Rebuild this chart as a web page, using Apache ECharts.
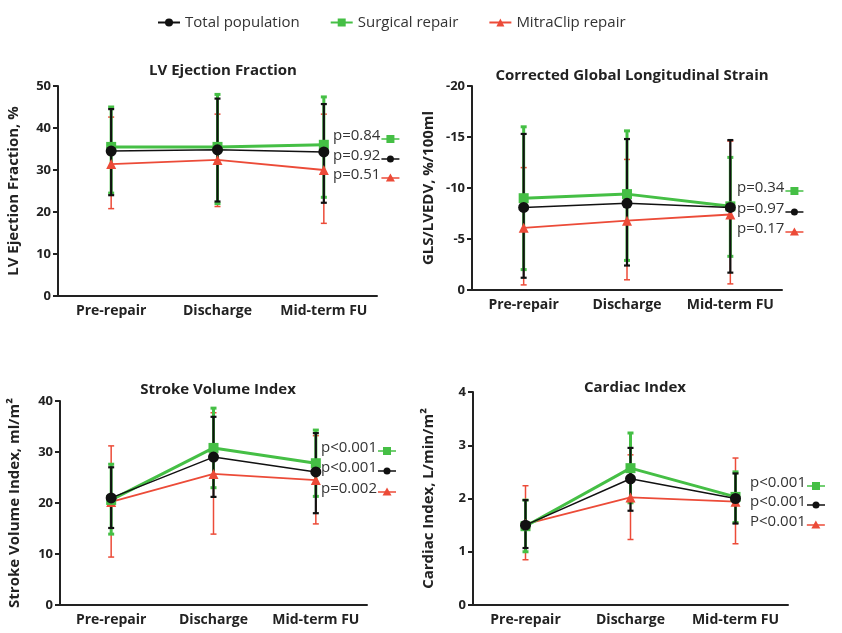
<!DOCTYPE html>
<html>
<head>
<meta charset="utf-8">
<script src="https://cdn.jsdelivr.net/npm/echarts@6/dist/echarts.min.js"></script>
<style>html,body{margin:0;padding:0;background:#fff;}#c{width:842px;height:633px;}</style>
</head>
<body>
<div id="c"></div>
<script>
const categories = ['Pre-repair', 'Discharge', 'Mid-term FU'];
const seriesNames = ['Total population', 'Surgical repair', 'MitraClip repair'];

// Panel 1: LV Ejection Fraction (%)
const efTotal = [34.5, 34.8, 34.3];
const efTotalLow = [24.0, 22.5, 22.2];
const efTotalHigh = [44.5, 47.0, 45.7];
const efSurgical = [35.5, 35.5, 36.0];
const efSurgicalLow = [24.5, 22.0, 23.5];
const efSurgicalHigh = [45.0, 48.0, 47.4];
const efMitra = [31.4, 32.4, 30.0];
const efMitraLow = [20.8, 21.3, 17.3];
const efMitraHigh = [42.6, 43.3, 43.3];
const efP = ['p=0.84', 'p=0.92', 'p=0.51'];

// Panel 2: Corrected GLS (GLS/LVEDV, %/100ml)
const glsTotal = [-8.1, -8.5, -8.1];
const glsTotalLow = [-1.2, -2.4, -1.7];
const glsTotalHigh = [-15.3, -14.8, -14.7];
const glsSurgical = [-9.0, -9.4, -8.2];
const glsSurgicalLow = [-2.0, -2.9, -3.3];
const glsSurgicalHigh = [-16.0, -15.6, -13.0];
const glsMitra = [-6.1, -6.8, -7.4];
const glsMitraLow = [-0.5, -1.0, -0.6];
const glsMitraHigh = [-12.0, -12.8, -14.6];
const glsP = ['p=0.34', 'p=0.97', 'p=0.17'];

// Panel 3: Stroke Volume Index (ml/m2)
const svTotal = [21.0, 29.0, 26.1];
const svTotalLow = [15.1, 21.2, 18.0];
const svTotalHigh = [27.0, 36.9, 33.7];
const svSurgical = [20.6, 30.8, 27.8];
const svSurgicalLow = [13.9, 23.0, 21.3];
const svSurgicalHigh = [27.6, 38.6, 34.3];
const svMitra = [20.2, 25.7, 24.5];
const svMitraLow = [9.4, 13.9, 15.9];
const svMitraHigh = [31.2, 37.7, 33.2];
const svP = ['p<0.001', 'p<0.001', 'p=0.002'];

// Panel 4: Cardiac Index (L/min/m2)
const ciTotal = [1.50, 2.37, 2.00];
const ciTotalLow = [1.07, 1.77, 1.53];
const ciTotalHigh = [1.97, 2.95, 2.47];
const ciSurgical = [1.48, 2.57, 2.03];
const ciSurgicalLow = [1.00, 1.92, 1.55];
const ciSurgicalHigh = [1.97, 3.23, 2.50];
const ciMitra = [1.52, 2.02, 1.94];
const ciMitraLow = [0.85, 1.23, 1.15];
const ciMitraHigh = [2.24, 2.82, 2.76];
const ciP = ['p<0.001', 'p<0.001', 'P<0.001'];

const BLACK = '#111111', GREEN = '#45bf45', RED = '#ec4b38';
const FONT = '"Open Sans", "Liberation Sans", sans-serif';

const panels = [
  { title: 'LV Ejection Fraction', yName: 'LV Ejection Fraction, %', min: 0, max: 50, interval: 10, inverse: false,
    grid: { left: 58, top: 86, width: 319, height: 210 }, titlePos: [218, 58], nameGap: 37,
    total: [efTotal, efTotalLow, efTotalHigh], surg: [efSurgical, efSurgicalLow, efSurgicalHigh], mitra: [efMitra, efMitraLow, efMitraHigh],
    p: efP, pPos: [333, [139, 159, 178]] },
  { title: 'Corrected Global Longitudinal Strain', yName: 'GLS/LVEDV, %/100ml', min: -20, max: 0, interval: 5, inverse: true,
    grid: { left: 472, top: 86, width: 310, height: 204 }, titlePos: [627, 63], nameGap: 36,
    total: [glsTotal, glsTotalLow, glsTotalHigh], surg: [glsSurgical, glsSurgicalLow, glsSurgicalHigh], mitra: [glsMitra, glsMitraLow, glsMitraHigh],
    p: glsP, pPos: [737, [191, 212, 232]] },
  { title: 'Stroke Volume Index', yName: 'Stroke Volume Index, ml/m²', min: 0, max: 40, interval: 10, inverse: false,
    grid: { left: 60, top: 401, width: 307, height: 204 }, titlePos: [213, 377], nameGap: 38,
    total: [svTotal, svTotalLow, svTotalHigh], surg: [svSurgical, svSurgicalLow, svSurgicalHigh], mitra: [svMitra, svMitraLow, svMitraHigh],
    p: svP, pPos: [321, [451, 471, 492]] },
  { title: 'Cardiac Index', yName: 'Cardiac Index, L/min/m²', min: 0, max: 4, interval: 1, inverse: false,
    grid: { left: 473, top: 392, width: 315, height: 213 }, titlePos: [630, 375], nameGap: 37,
    total: [ciTotal, ciTotalLow, ciTotalHigh], surg: [ciSurgical, ciSurgicalLow, ciSurgicalHigh], mitra: [ciMitra, ciMitraLow, ciMitraHigh],
    p: ciP, pPos: [750, [486, 505, 525]] }
];

function errRender(color, lw, cap) {
  return function (params, api) {
    const x = api.value(0);
    const a = api.coord([x, api.value(1)]);
    const b = api.coord([x, api.value(2)]);
    const st = { stroke: color, lineWidth: lw };
    return { type: 'group', children: [
      { type: 'line', shape: { x1: a[0], y1: a[1], x2: b[0], y2: b[1] }, style: st },
      { type: 'line', shape: { x1: a[0] - cap, y1: a[1], x2: a[0] + cap, y2: a[1] }, style: st },
      { type: 'line', shape: { x1: b[0] - cap, y1: b[1], x2: b[0] + cap, y2: b[1] }, style: st }
    ] };
  };
}

const grids = [], xAxes = [], yAxes = [], series = [], titles = [], graphics = [];
const measure = document.createElement('canvas').getContext('2d');
const PFONT = '15px ' + FONT;
measure.font = PFONT;

panels.forEach((p, i) => {
  grids.push(Object.assign({}, p.grid));
  titles.push({ text: p.title, left: p.titlePos[0], top: p.titlePos[1], textAlign: 'center',
    textStyle: { fontFamily: FONT, fontWeight: 'bold', fontSize: 15, color: '#222' } });
  xAxes.push({ type: 'category', gridIndex: i, data: categories, boundaryGap: true,
    axisLine: { onZero: false, lineStyle: { color: '#222', width: 2 } },
    axisTick: { alignWithLabel: true, length: 5, lineStyle: { color: '#222', width: 2 } },
    axisLabel: { fontFamily: FONT, fontWeight: 'bold', fontSize: 14, color: '#222', margin: 8, interval: 0 },
    splitLine: { show: false } });
  yAxes.push({ type: 'value', gridIndex: i, min: p.min, max: p.max, interval: p.interval, inverse: p.inverse,
    name: p.yName, nameLocation: 'middle', nameGap: p.nameGap,
    nameTextStyle: { fontFamily: FONT, fontWeight: 'bold', fontSize: 15, color: '#222' },
    axisLine: { show: true, lineStyle: { color: '#222', width: 2 } },
    axisTick: { show: true, length: 5, lineStyle: { color: '#222', width: 2 } },
    axisLabel: { fontFamily: FONT, fontWeight: 'bold', fontSize: 13, color: '#222', margin: 7 },
    splitLine: { show: false } });

  const groups = [
    { d: p.mitra, color: RED, lw: 1.8, elw: 1.5, sym: 'triangle', size: 10, name: seriesNames[2] },
    { d: p.surg, color: GREEN, lw: 3, elw: 3, sym: 'rect', size: 10, name: seriesNames[1] },
    { d: p.total, color: BLACK, lw: 1.5, elw: 2.2, sym: 'circle', size: 11, name: seriesNames[0] }
  ];
  groups.forEach((g, k) => {
    series.push({ type: 'custom', name: g.name + ' SD ' + i, xAxisIndex: i, yAxisIndex: i,
      renderItem: errRender(g.color, g.elw, 3), encode: { x: 0, y: [1, 2] }, z: 2 + k,
      data: g.d[0].map((_, j) => [j, g.d[1][j], g.d[2][j]]), silent: true });
  });
  groups.forEach((g, k) => {
    series.push({ type: 'line', name: g.name, xAxisIndex: i, yAxisIndex: i, data: g.d[0],
      symbol: g.sym, symbolSize: g.size, showAllSymbol: true, z: 10 + k,
      lineStyle: { color: g.color, width: g.lw }, itemStyle: { color: g.color, borderWidth: 0 } });
  });

  // p-value annotations (order: surgical, total, mitraclip)
  const pColors = [GREEN, BLACK, RED];
  const pSyms = ['rect', 'circle', 'triangle'];
  p.p.forEach((txt, k) => {
    const x = p.pPos[0], y = p.pPos[1][k];
    const w = measure.measureText(txt).width;
    const lx = x + w + 1;
    const c = pColors[k];
    let mk;
    const mx = lx + 9;
    if (pSyms[k] === 'rect') mk = { type: 'rect', shape: { x: mx - 4, y: y - 4, width: 8, height: 8 }, style: { fill: c } };
    else if (pSyms[k] === 'circle') mk = { type: 'circle', shape: { cx: mx, cy: y, r: 3.5 }, style: { fill: c } };
    else mk = { type: 'polygon', shape: { points: [[mx, y - 4.5], [mx - 4.5, y + 3.5], [mx + 4.5, y + 3.5]] }, style: { fill: c } };
    graphics.push({ type: 'text', left: x, top: y - 11, style: { text: txt, font: PFONT, fill: '#333' } });
    graphics.push({ type: 'line', shape: { x1: lx, y1: y, x2: lx + 18, y2: y }, style: { stroke: c, lineWidth: 1.5 } });
    graphics.push(mk);
  });
});

const chart = echarts.init(document.getElementById('c'), null, { renderer: 'canvas' });
chart.setOption({
  backgroundColor: '#fff',
  animation: false,
  title: titles,
  legend: { data: seriesNames, top: 10, left: 152, itemGap: 30, itemWidth: 22, itemHeight: 10,
    textStyle: { fontFamily: FONT, fontSize: 15, color: '#333' } },
  grid: grids,
  xAxis: xAxes,
  yAxis: yAxes,
  series: series,
  graphic: graphics
});
</script>
</body>
</html>
